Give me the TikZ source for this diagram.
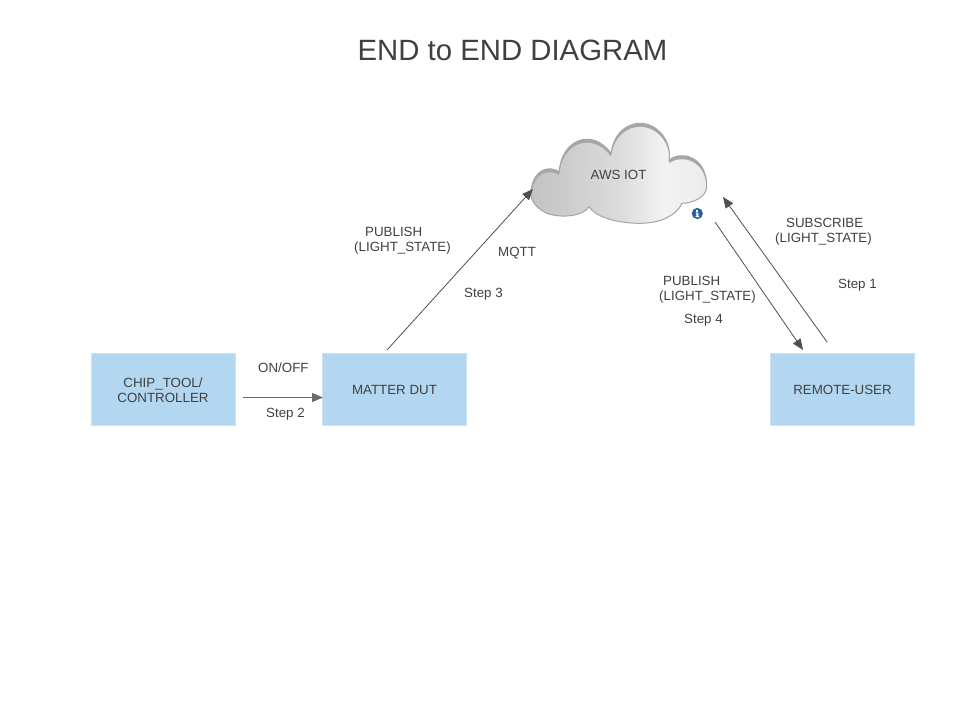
\documentclass[tikz,border=0pt]{standalone}
\usepackage{fontspec}
\setmainfont{Liberation Sans}
\usetikzlibrary{arrows.meta}
\definecolor{boxfill}{HTML}{B3D7F0}
\definecolor{boxline}{HTML}{CBE3F5}
\definecolor{ink}{HTML}{404040}
\definecolor{conn}{HTML}{505050}
\definecolor{rim}{HTML}{A6A6A6}
\definecolor{infoblue}{HTML}{2A6099}
\pgfdeclarehorizontalshading{cloudshade}{100bp}{
  color(0bp)=(black!27); color(25bp)=(black!24); color(50bp)=(black!14);
  color(62bp)=(black!5); color(72bp)=(black!7); color(100bp)=(black!28)}
\newcommand{\cloudpath}{(531.7,186.7)
  .. controls (535,170) and (548,165) .. (559.3,171.7)
  .. controls (561,140) and (592,127) .. (611,153.3)
  .. controls (614,132) and (628,123.3) .. (640,123.3)
  .. controls (656.7,123.3) and (672,140) .. (669,160)
  .. controls (682,150) and (707,157) .. (706.7,186.7)
  .. controls (706.7,196.7) and (693.3,203.3) .. (681.7,203.3)
  .. controls (680,210) and (666.7,223.3) .. (640,223.3)
  .. controls (620,223.3) and (596.7,218.3) .. (589,206.7)
  .. controls (583.3,216.7) and (560,218.3) .. (546.7,213.3)
  .. controls (533.3,206.7) and (528,196.7) .. (531.7,186.7) -- cycle}
\tikzset{
  every node/.style={text=ink,font=\fontsize{13.33}{15}\selectfont},
  bluebox/.style={draw=boxline,fill=boxfill,line width=1pt,minimum width=144pt,minimum height=72pt,inner sep=0pt,align=center},
  lab/.style={anchor=west,inner sep=0pt,align=left},
  conna/.style={draw=conn,line width=0.8pt,-{Triangle[length=11pt,width=9pt]}},
  titletext/.style={font=\fontsize{29.33}{34}\selectfont,inner sep=0pt}
}
\begin{document}
\begin{tikzpicture}[x=1pt,y=-1pt]
\useasboundingbox[fill=white] (0,0) rectangle (953,711);
\node[titletext] (title) at (512.5,50) {END to END DIAGRAM};
% cloud
\fill[rim] \cloudpath;
\begin{scope}
  \clip \cloudpath;
  \begin{scope}[shift={(0,3.5)}]
    \clip \cloudpath;
    \path[shading=cloudshade] (528,118) rectangle (710,230);
  \end{scope}
\end{scope}
\draw[rim,line width=1pt] \cloudpath;
\node[inner sep=0pt] (cloud) at (618.5,175) {AWS IOT};
% info icon
\fill[infoblue] (697.3,213.5) circle (5.6);
\fill[white] (696.4,209.9) rectangle (698.3,211.6);
\fill[white] (695.8,212.6) rectangle (698.3,213.7) (696.4,213.7) rectangle (698.3,216.2) (695.6,216) rectangle (699,217.1);
% boxes
\node[bluebox] (chip) at (163,389.5) {\rule{0pt}{11pt}CHIP\_TOOL/\\CONTROLLER};
\node[bluebox] (dut) at (394.5,389.5) {MATTER DUT};
\node[bluebox] (user) at (842.5,389.5) {REMOTE-USER};
% connector ends
\coordinate (a1) at (243,397.5);
\coordinate (a2) at (323,397.5);
\coordinate (b1) at (387,350);
\coordinate (b2) at (533,189);
\coordinate (c1) at (827,342);
\coordinate (c2) at (723,197);
\coordinate (d1) at (715,222);
\coordinate (d2) at (803,350);
\draw[conna,line width=1pt,draw=conn!85] (a1) -- (a2);
\draw[conna] (b1) -- (b2);
\draw[conna] (c1) -- (c2);
\draw[conna] (d1) -- (d2);
% labels
\node[lab] (onoff) at (258,368) {ON/OFF};
\node[lab] (s2) at (266,414) {Step 2};
\node[lab] (pub1) at (354,241) {\hspace*{11pt}PUBLISH\\(LIGHT\_STATE)};
\node[lab] (mqtt) at (498,253) {MQTT};
\node[lab] (s3) at (464,294) {Step 3};
\node[lab] (pub2) at (659,290) {\hspace*{4pt}PUBLISH\\(LIGHT\_STATE)};
\node[lab] (s4) at (684,320) {Step 4};
\node[lab] (sub) at (775,231.5) {\hspace*{11pt}SUBSCRIBE\\(LIGHT\_STATE)};
\node[lab] (s1) at (838,285) {Step 1};
\end{tikzpicture}
\end{document}
